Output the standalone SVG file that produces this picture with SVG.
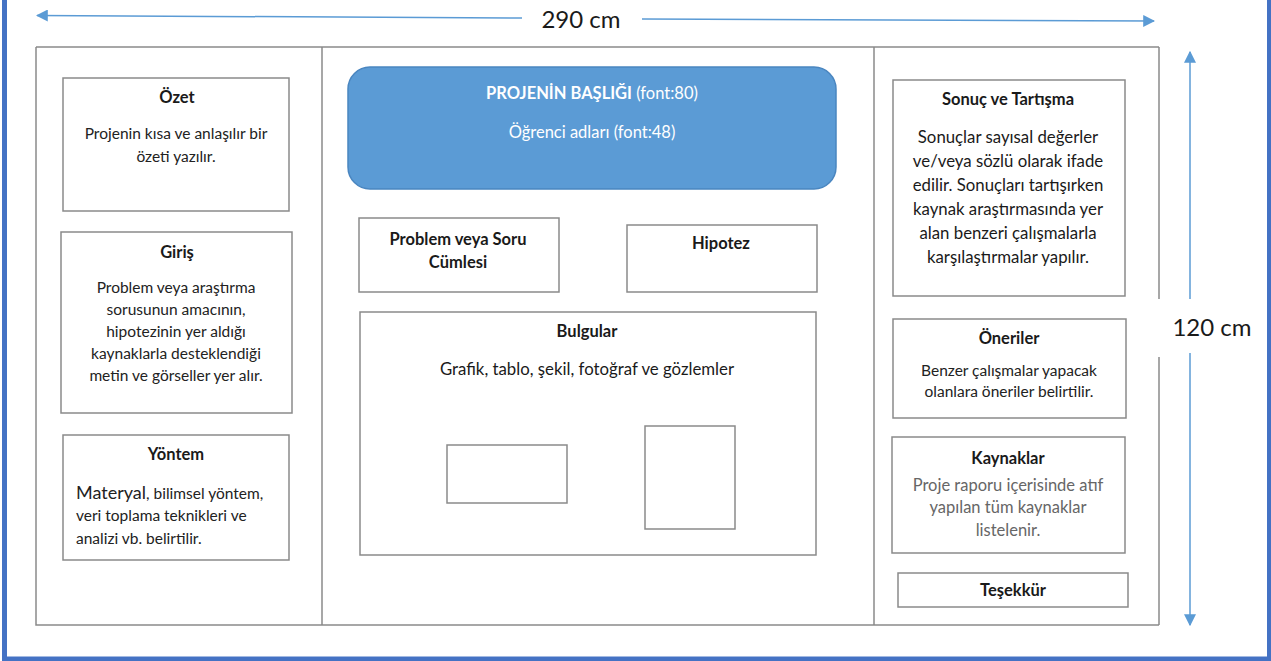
<svg xmlns="http://www.w3.org/2000/svg" width="1271" height="661" viewBox="0 0 1271 661">
<defs>
<style>
.box{fill:#fff;stroke:#8a8a8a;stroke-width:1.5}
.frame{fill:none;stroke:#8a8a8a;stroke-width:1.5}
.t{font-family:Lato,"Liberation Sans",sans-serif;font-weight:bold;font-size:16.5px;fill:#1a1a1a;text-anchor:middle}
.b{font-family:Lato,"Liberation Sans",sans-serif;font-size:15.5px;fill:#222;text-anchor:middle}
.bl{font-family:Lato,"Liberation Sans",sans-serif;font-size:15.5px;fill:#222}
.g{font-family:Lato,"Liberation Sans",sans-serif;font-size:16.5px;fill:#666;text-anchor:middle}
.big{font-family:Lato,"Liberation Sans",sans-serif;font-size:16.8px;fill:#1a1a1a;text-anchor:middle}
.dim{font-family:Lato,"Liberation Sans",sans-serif;font-size:24px;fill:#1a1a1a;text-anchor:middle}
.arr{stroke:#5b9bd5;stroke-width:1.5;fill:none}
.w{font-family:Lato,"Liberation Sans",sans-serif;font-size:16.5px;fill:#fff;text-anchor:middle}
</style>
<marker id="ah" viewBox="0 0 10 10" refX="9" refY="5" markerWidth="12" markerHeight="12" markerUnits="userSpaceOnUse" orient="auto"><path d="M0,0 L10,5 L0,10 z" fill="#5b9bd5"/></marker>
</defs>
<rect x="0" y="0" width="1271" height="661" fill="#fff"/>
<rect x="4.5" y="-10" width="1265" height="669" fill="none" stroke="#4472c4" stroke-width="5"/>

<g id="poster-frame">
<path class="frame" d="M36,47 H1159 M36,47 V625 H1159 M1159,47 V299 M1159,357 V625 M322,47 V625 M874,47 V625"/>
</g>

<g id="connectors">
<line class="arr" x1="522" y1="18" x2="37" y2="15.5" marker-end="url(#ah)"/>
<line class="arr" x1="642" y1="19" x2="1154" y2="21" marker-end="url(#ah)"/>
<line class="arr" x1="1190" y1="299" x2="1190" y2="52" marker-end="url(#ah)"/>
<line class="arr" x1="1190" y1="353" x2="1190" y2="625" marker-end="url(#ah)"/>
</g>
<text class="dim" x="581" y="28">290 cm</text>
<text class="dim" x="1212" y="336" font-size="22">120 cm</text>

<g id="ozet">
<rect class="box" x="63" y="78" width="226" height="133"/>
<text class="t" x="177" y="103">Özet</text>
<text class="b" x="176" y="139">Projenin kısa ve anlaşılır bir</text>
<text class="b" x="176" y="162">özeti yazılır.</text>
</g>

<g id="giris">
<rect class="box" x="61" y="232" width="231" height="181"/>
<text class="t" x="177" y="258">Giriş</text>
<text class="b" x="176" y="293">Problem veya araştırma</text>
<text class="b" x="176" y="315">sorusunun amacının,</text>
<text class="b" x="176" y="337">hipotezinin yer aldığı</text>
<text class="b" x="176" y="359">kaynaklarla desteklendiği</text>
<text class="b" x="176" y="381">metin ve görseller yer alır.</text>
</g>

<g id="yontem">
<rect class="box" x="63" y="435" width="226" height="125"/>
<text class="t" x="176" y="460">Yöntem</text>
<text class="bl" x="76" y="499"><tspan font-size="18">Materyal</tspan>, bilimsel yöntem,</text>
<text class="bl" x="76" y="521">veri toplama teknikleri ve</text>
<text class="bl" x="76" y="544">analizi vb. belirtilir.</text>
</g>

<g id="baslik">
<rect x="348" y="67" width="488" height="122" rx="22" ry="22" fill="#5b9bd5" stroke="#4a86c0" stroke-width="1.5"/>
<text class="w" x="592" y="99"><tspan font-weight="bold">PROJENİN BAŞLIĞI</tspan> (font:80)</text>
<text class="w" x="592" y="138">Öğrenci adları (font:48)</text>
</g>

<g id="problem">
<rect class="box" x="359" y="218" width="200" height="74"/>
<text class="t" x="458" y="245">Problem veya Soru</text>
<text class="t" x="458" y="268">Cümlesi</text>
</g>

<g id="hipotez">
<rect class="box" x="627" y="225" width="190" height="67"/>
<text class="t" x="721" y="249">Hipotez</text>
</g>

<g id="bulgular">
<rect class="box" x="360" y="312" width="456" height="243"/>
<text class="t" x="587" y="337">Bulgular</text>
<text class="big" x="587" y="375" font-size="17.5">Grafik, tablo, şekil, fotoğraf ve gözlemler</text>
<rect class="box" x="447" y="445" width="120" height="58"/>
<rect class="box" x="645" y="426" width="90" height="103"/>
</g>

<g id="sonuc">
<rect class="box" x="893" y="80" width="232" height="216"/>
<text class="t" x="1008" y="105">Sonuç ve Tartışma</text>
<text class="big" x="1008" y="143">Sonuçlar sayısal değerler</text>
<text class="big" x="1008" y="167">ve/veya sözlü olarak ifade</text>
<text class="big" x="1008" y="191">edilir. Sonuçları tartışırken</text>
<text class="big" x="1008" y="215">kaynak araştırmasında yer</text>
<text class="big" x="1008" y="239">alan benzeri çalışmalarla</text>
<text class="big" x="1008" y="263">karşılaştırmalar yapılır.</text>
</g>

<g id="oneriler">
<rect class="box" x="893" y="319" width="233" height="99"/>
<text class="t" x="1009" y="344">Öneriler</text>
<text class="b" x="1009" y="376" font-size="16">Benzer çalışmalar yapacak</text>
<text class="b" x="1009" y="397" font-size="16">olanlara öneriler belirtilir.</text>
</g>

<g id="kaynaklar">
<rect class="box" x="892" y="437" width="233" height="116"/>
<text class="t" x="1008" y="464">Kaynaklar</text>
<text class="g" x="1008" y="491">Proje raporu içerisinde atıf</text>
<text class="g" x="1008" y="513">yapılan tüm kaynaklar</text>
<text class="g" x="1008" y="536">listelenir.</text>
</g>

<g id="tesekkur">
<rect class="box" x="898" y="573" width="230" height="34"/>
<text class="t" x="1013" y="596">Teşekkür</text>
</g>
</svg>
